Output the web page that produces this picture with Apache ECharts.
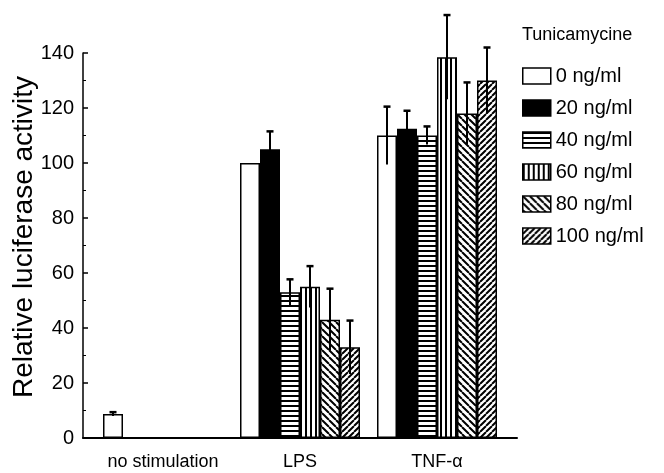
<!DOCTYPE html>
<html>
<head>
<meta charset="utf-8">
<script src="https://cdn.jsdelivr.net/npm/echarts@6/dist/echarts.min.js"></script>
<style>
html,body{margin:0;padding:0;background:#fff;}
#c{width:664px;height:473px;}
</style>
</head>
<body>
<div id="c"></div>
<script>
// ---- data ----
const categories = ['no stimulation', 'LPS', 'TNF-\u03b1'];
const seriesNames = ['0 ng/ml', '20 ng/ml', '40 ng/ml', '60 ng/ml', '80 ng/ml', '100 ng/ml'];
const legendTitle = 'Tunicamycine';
const yTitle = 'Relative luciferase activity';
// values per series: [no stimulation, LPS, TNF-α]
const v0   = [8.7, 100, 110];
const v20  = [null, 105, 112.5];
const v40  = [null, 53, 110];
const v60  = [null, 55, 138.5];
const v80  = [null, 43, 118];
const v100 = [null, 33, 130];
// error (± SD) per series
const e0   = [0.7, 0, 10.5];
const e20  = [null, 6.5, 6.5];
const e40  = [null, 4.7, 3.3];
const e60  = [null, 7.5, 15.3];
const e80  = [null, 11.3, 11.3];
const e100 = [null, 9.7, 12];
const yTicks = [0, 20, 40, 60, 80, 100, 120, 140];

const values = [v0, v20, v40, v60, v80, v100];
const errors = [e0, e20, e40, e60, e80, e100];

// ---- patterns ----
function pat(w, h, draw) {
  const c = document.createElement('canvas');
  c.width = w; c.height = h;
  const g = c.getContext('2d');
  g.fillStyle = '#fff'; g.fillRect(0, 0, w, h);
  g.fillStyle = '#000'; g.strokeStyle = '#000';
  draw(g, w, h);
  return { image: c, repeat: 'repeat' };
}
const fills = [
  '#ffffff',
  '#000000',
  pat(4, 5, (g, w) => { g.fillRect(0, 0, w, 2); }),
  pat(5, 4, (g, w, h) => { g.fillRect(0, 0, 2, h); }),
  pat(7, 7, (g, s) => { g.lineWidth = 2; g.beginPath();
    for (let k = -1; k <= 1; k++) { g.moveTo(k * s, 0); g.lineTo(k * s + s, s); } g.stroke(); }),
  pat(6, 6, (g, s) => { g.lineWidth = 2; g.beginPath();
    for (let k = -1; k <= 1; k++) { g.moveTo(k * s, s); g.lineTo(k * s + s, 0); } g.stroke(); })
];

const FONT = "'Liberation Sans', Arial, Helvetica, sans-serif";
const BW = 20;

const series = values.map((vals, i) => ({
  name: seriesNames[i],
  type: 'bar',
  xAxisIndex: 0, yAxisIndex: 0,
  barWidth: BW,
  barGap: '0%',
  data: vals,
  itemStyle: { color: fills[i], borderColor: '#000', borderWidth: 1.5 },
  emphasis: { disabled: true },
  animation: false
}));

const errData = [];
errors.forEach((arr, si) => arr.forEach((e, ci) => {
  if (values[si][ci] != null && e) errData.push([ci, si, values[si][ci], e]);
}));

series.push({
  type: 'custom',
  xAxisIndex: 0, yAxisIndex: 0,
  data: errData,
  z: 10,
  animation: false,
  renderItem: function (params, api) {
    const ci = api.value(0), si = api.value(1), v = api.value(2), e = api.value(3);
    const c = api.coord([ci, v]);
    const x = c[0] + (si - 2.5) * BW;
    const yt = api.coord([ci, v + e])[1];
    const yb = api.coord([ci, v - e])[1];
    return {
      type: 'group',
      children: [
        { type: 'line', shape: { x1: x, y1: yt, x2: x, y2: yb }, style: { stroke: '#000', lineWidth: 2 } },
        { type: 'line', shape: { x1: x - 3.5, y1: yt, x2: x + 3.5, y2: yt }, style: { stroke: '#000', lineWidth: 2.5 } }
      ]
    };
  }
});

const chart = echarts.init(document.getElementById('c'), null, { renderer: 'canvas' });
chart.setOption({
  animation: false,
  backgroundColor: '#fff',
  title: {
    text: legendTitle, left: 522, top: 26, padding: 0,
    textStyle: { fontFamily: FONT, fontSize: 18, fontWeight: 'normal', color: '#000' }
  },
  legend: {
    orient: 'vertical', left: 522, top: 66, padding: 0,
    itemWidth: 28, itemHeight: 16, itemGap: 12,
    icon: 'rect',
    data: seriesNames,
    textStyle: { fontFamily: FONT, fontSize: 20, color: '#000' },
    itemStyle: { borderColor: '#000', borderWidth: 1.5 },
    selectedMode: false
  },
  grid: [
    { left: 94.5, right: 158.5, top: 53, bottom: 35 },
    { left: 83, right: 147, top: 53, bottom: 35 }
  ],
  graphic: [{
    type: 'text', x: 24, y: 237, rotation: Math.PI / 2,
    style: { text: yTitle, fontFamily: FONT, fontSize: 28, fill: '#000', align: 'center', verticalAlign: 'middle' }
  }],
  xAxis: [
    {
      type: 'category', gridIndex: 0, data: categories,
      axisLine: { show: false }, axisTick: { show: false },
      axisLabel: { interval: 0, fontFamily: FONT, fontSize: 18, color: '#000', margin: 15 }
    },
    {
      type: 'value', gridIndex: 1, min: 0, max: 1,
      axisLine: { show: true, lineStyle: { color: '#000', width: 2 } },
      axisTick: { show: false }, axisLabel: { show: false }, splitLine: { show: false }
    }
  ],
  yAxis: [
    {
      type: 'value', gridIndex: 0, min: 0, max: 140, interval: 20,
      offset: 11.5,
      axisLine: { show: true, lineStyle: { color: '#000', width: 1.5 } },
      axisTick: { show: true, inside: true, length: 5, lineStyle: { color: '#000', width: 1.5 } },
      minorTick: { show: true, splitNumber: 2, length: 3, lineStyle: { color: '#000', width: 1 } },
      axisLabel: { fontFamily: FONT, fontSize: 20, color: '#000', margin: 9,
        formatter: v => yTicks.indexOf(v) >= 0 ? String(v) : '' },
      splitLine: { show: false }
    },
    {
      type: 'value', gridIndex: 1, min: 0, max: 1, show: false
    }
  ],
  series: series
});
</script>
</body>
</html>
